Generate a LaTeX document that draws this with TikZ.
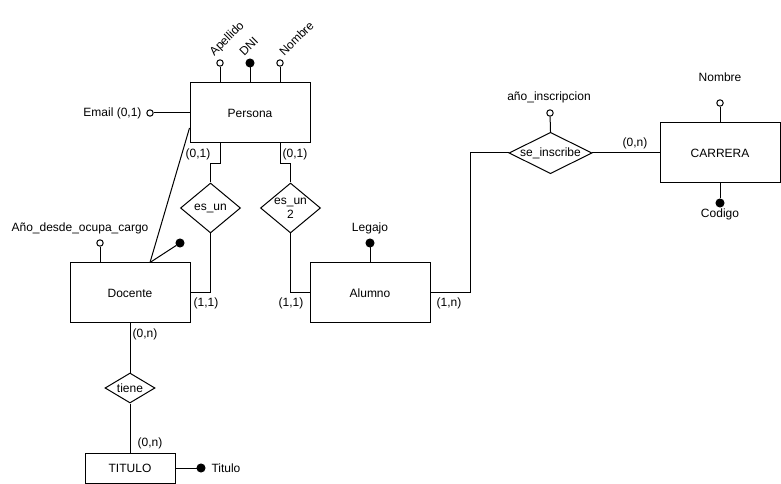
\documentclass[tikz,border=0pt]{standalone}
\usepackage{fontspec}
\setmainfont{Liberation Sans}
\usetikzlibrary{shapes.geometric}
\begin{document}
\begin{tikzpicture}[x=0.75pt,y=-0.75pt,
  font=\fontsize{9}{10.5}\selectfont,
  line width=0.75pt,
  entity/.style={draw,rectangle,inner sep=0pt,minimum width=90pt,minimum height=45pt},
  relation/.style={draw,diamond,inner sep=0pt,align=center},
  attr/.style={draw,circle,fill=white,inner sep=0pt,minimum size=4.8pt},
  keyattr/.style={draw,circle,fill=black,inner sep=0pt,minimum size=6pt},
  txt/.style={inner sep=0pt}]
\useasboundingbox (0,0) rectangle (781,484);

% entities
\node[entity] (persona) at (250,113) {Persona};
\node[entity] (docente) at (130,293) {Docente};
\node[entity] (alumno) at (370,293) {Alumno};
\node[entity] (carrera) at (720,153) {CARRERA};
\node[entity,minimum width=67.5pt,minimum height=22.5pt] (titulo) at (130,468) {TITULO};

% relationships
\node[relation,minimum width=45pt,minimum height=37.5pt,shape aspect=1.2] (esun) at (210.5,208) {es\_un};
\node[relation,minimum width=45pt,minimum height=37.5pt,shape aspect=1.2] (esundos) at (290.5,208) {es\_un\\2};
\node[relation,minimum width=60pt,minimum height=30pt,shape aspect=2] (inscribe) at (550.5,153) {se\_inscribe};
\node[relation,minimum width=37.5pt,minimum height=22.5pt,shape aspect=1.67] (tiene) at (130,388) {tiene};

% attributes of Persona
\node[attr] (apcirc) at (220,63) {};
\node[keyattr] (dnicirc) at (250,63) {};
\node[attr] (nomcirc) at (280,63) {};
\node[attr] (emailcirc) at (150,113) {};
\draw ([xshift=-22.5pt]persona.north) -- (apcirc);
\draw (persona.north) -- (dnicirc);
\draw ([xshift=22.5pt]persona.north) -- (nomcirc);
\draw (persona.west) -- (emailcirc);
\node[txt,rotate=45,anchor=base west] (apellido) at (214,57) {Apellido};
\node[txt,rotate=45,anchor=base west] (dni) at (244,57) {DNI};
\node[txt,rotate=45,anchor=base west] (nombrep) at (284,57) {Nombre};
\node[txt,anchor=east] (email) at (142,113) {Email (0,1)};

% attributes of Docente
\node[attr] (aniocirc) at (100,243) {};
\node[keyattr] (docdot) at (180,243) {};
\draw ([xshift=-22.5pt]docente.north) -- (aniocirc);
\draw ([xshift=15pt]docente.north) -- (docdot);
\node[txt] (anio) at (80,228) {Año\_desde\_ocupa\_cargo};
\draw ([xshift=15pt]docente.north) -- ([yshift=-11.25pt]persona.west);

% attributes of Alumno
\node[keyattr] (legdot) at (370,243) {};
\draw (alumno.north) -- (legdot);
\node[txt] (legajo) at (370,228) {Legajo};

% attributes of se_inscribe
\node[attr] (inscirc) at (550,113) {};
\draw (inscribe.north) -- (inscirc);
\node[txt] (anioins) at (549,97) {año\_inscripcion};

% attributes of CARRERA
\node[attr] (cnomcirc) at (720,103) {};
\node[keyattr] (codot) at (720,203) {};
\draw (carrera.north) -- (cnomcirc);
\draw (carrera.south) -- (codot);
\node[txt] (cnombre) at (720,77) {Nombre};
\node[txt] (codigo) at (720,214) {Codigo};

% attribute of TITULO
\node[keyattr] (titdot) at (201,468) {};
\draw (titulo.east) -- (titdot);
\node[txt,anchor=west] (titattr) at (211,468) {Titulo};

% connectors
\draw ([xshift=-22.5pt]persona.south) -- ++(0,20) -| (esun.north);
\draw (esun.south) |- (docente.east);
\draw ([xshift=22.5pt]persona.south) -- ++(0,20) -| (esundos.north);
\draw (esundos.south) |- (alumno.west);
\draw (alumno.east) -- ++(40,0) |- (inscribe.west);
\draw (inscribe.east) -- (carrera.west);
\draw (docente.south) -- (tiene.north);
\draw (tiene.south) -- (titulo.north);

% cardinalities
\node[txt] (c1) at (198,154) {(0,1)};
\node[txt] (c2) at (295,154) {(0,1)};
\node[txt] (c3) at (206,303) {(1,1)};
\node[txt] (c4) at (291,303) {(1,1)};
\node[txt] (c5) at (449,303) {(1,n)};
\node[txt] (c6) at (635,143) {(0,n)};
\node[txt] (c7) at (145,334) {(0,n)};
\node[txt] (c8) at (150,443) {(0,n)};
\end{tikzpicture}
\end{document}
